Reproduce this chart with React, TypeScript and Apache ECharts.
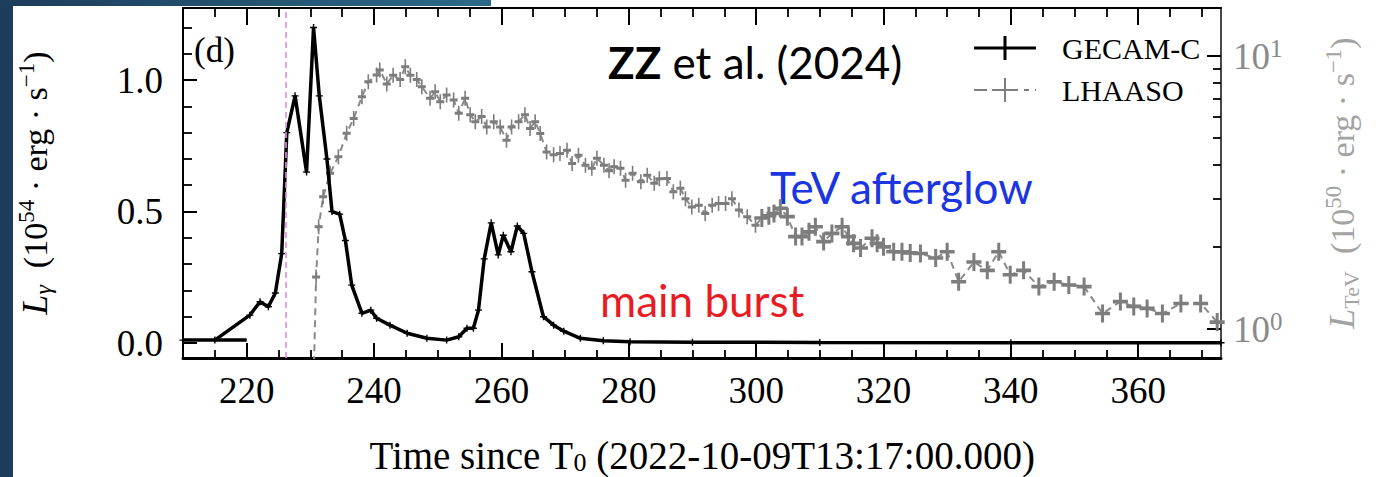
import React, { useEffect, useRef } from "react";
import * as echarts from "echarts";

// ---------------- data ----------------
const gecamTime = [
  210.0, 215.0, 220.5, 222.1, 223.4, 224.5, 225.5, 226.3, 227.6, 229.4, 230.5, 231.4, 232.6, 233.4,
  234.6, 235.5, 236.5, 238.1, 239.5, 240.4, 242.5, 245.2, 248.3, 251.4, 253.3, 254.6, 255.6, 256.4,
  257.3, 258.4, 259.5, 260.3, 261.5, 262.5, 263.5, 264.8, 266.6, 268.2, 269.8, 272.4, 276.0, 280.2,
  290.0, 310.0, 340.0, 373.0,
];
const gecamLum = [
  0.011, 0.011, 0.106, 0.157, 0.138, 0.19, 0.34, 0.8, 0.94, 0.65, 1.2, 0.94, 0.7, 0.5,
  0.49, 0.39, 0.22, 0.113, 0.125, 0.094, 0.068, 0.037, 0.018, 0.011, 0.024, 0.056, 0.056, 0.125,
  0.32, 0.457, 0.335, 0.41, 0.347, 0.445, 0.417, 0.271, 0.1, 0.068, 0.045, 0.018, 0.009, 0.005,
  0.003, 0.002, 0.001, 0.001,
];
// first wide bin horizontal error bar
const gecamBinTime = [215.0, 220.0];
const gecamBinLum = [0.011, 0.011];

const lhaasoTime = [
  230.4, 230.9, 231.3, 232.0, 233.1, 234.4, 235.7, 236.8, 238.1, 239.1, 240.4, 240.9, 242.0, 243.0,
  244.1, 244.9, 245.7, 246.7, 247.5, 248.8, 249.6, 250.4, 251.4, 252.5, 253.3, 254.3, 255.1, 255.9,
  256.9, 257.7, 258.8, 259.8, 260.8, 261.6, 262.7, 263.7, 264.5, 265.3, 266.1, 267.1, 268.2, 269.2,
  270.3, 271.1, 272.1, 273.2, 274.2, 275.0, 276.1, 276.9, 277.7, 278.7, 279.5, 280.6, 281.9, 282.9,
  284.0, 284.8, 286.0, 287.0, 288.1, 288.9, 289.9, 291.0, 292.0, 293.1, 294.1, 295.2, 296.2, 297.3,
  298.6, 299.9, 300.9, 302.0, 302.8, 303.8, 304.9, 306.2, 307.2, 308.3, 309.3, 310.6, 311.9, 313.5,
  314.5, 315.3, 316.4, 318.2, 319.0, 320.0, 321.6, 322.9, 324.2, 325.8, 328.2, 330.0, 331.8, 334.2,
  336.3, 338.1, 339.9, 342.0, 344.4, 346.8, 349.1, 351.5, 354.4, 357.2, 359.3, 361.4, 363.8, 366.7,
  369.8, 372.4,
];
const lhaasoLum = [
  0.5, 1.55, 2.37, 3.05, 3.72, 4.28, 5.21, 5.91, 7.1, 8.05, 8.52, 8.89, 7.9, 8.5,
  8.2, 9.14, 8.5, 8.2, 7.72, 7.0, 7.4, 6.8, 7.2, 6.9, 6.17, 7.0, 6.1, 5.75,
  6.0, 5.5, 5.75, 5.5, 4.92, 5.5, 5.75, 6.1, 5.43, 5.75, 5.2, 4.45, 4.35, 4.4,
  4.52, 4.04, 4.33, 3.98, 3.88, 4.22, 3.98, 3.8, 3.93, 3.88, 3.51, 3.72, 3.46, 3.66,
  3.42, 3.55, 3.56, 3.18, 3.28, 3.0, 2.8, 2.84, 2.65, 2.84, 2.88, 2.88, 3.0, 2.73,
  2.58, 2.4, 2.55, 2.6, 2.65, 2.77, 2.58, 2.18, 2.18, 2.27, 2.37, 2.09, 2.24, 2.37,
  2.18, 2.06, 1.98, 2.15, 2.06, 2.0, 1.92, 1.92, 1.9, 1.89, 1.82, 1.92, 1.49, 1.76,
  1.64, 1.92, 1.58, 1.64, 1.43, 1.49, 1.45, 1.43, 1.14, 1.26, 1.21, 1.19, 1.14, 1.24,
  1.24, 1.06,
];

const t0Marker = 226.1;

const xMajorTicks = [220, 240, 260, 280, 300, 320, 340, 360];
const xMinorTicks = [
  215, 225, 230, 235, 245, 250, 255, 265, 270, 275, 285, 290, 295, 305, 310, 315, 325, 330, 335,
  345, 350, 355, 365, 370,
];
const yMajorTicks = [0, 0.5, 1.0];
const yMinorTicks = [0.1, 0.2, 0.3, 0.4, 0.6, 0.7, 0.8, 0.9, 1.1, 1.2];
const tevMajorTicks = [1, 10];
const tevMinorTicks = [2, 3, 4, 5, 6, 7, 8, 9];

// ---------------- styles ----------------
const SERIF = "'Liberation Serif', 'DejaVu Serif', serif";
const SANS = "Lato, 'Open Sans', 'Noto Sans', sans-serif";
const PLUS = "path://M0,8H20V12H0Z M8,0H12V20H8Z";
const LEGEND_SOLID = "path://M0,10.5H62V13.5H0Z M29.5,0H32.5V24H29.5Z";
const LEGEND_DASHED =
  "path://M0,11H13V13H0Z M18,11H44V13H18Z M30,0H32V24H30Z M50,11H55V13H50Z M61,11H62V13H61Z";

const X_MIN = 210;
const X_MAX = 373;
const Y_MIN = -0.057;
const Y_MAX = 1.274;
const TEV_MIN = 0.783;
const TEV_MAX = 15;

function hiddenAxisBits() {
  return {
    splitLine: { show: false },
    minorTick: { show: false },
    minorSplitLine: { show: false },
  };
}

export default function App() {
  const ref = useRef<HTMLDivElement>(null);

  useEffect(() => {
    if (!ref.current) return;
    const chart = echarts.init(ref.current, null, { renderer: "svg" });

    const gecamData = gecamTime.map((t, i) => [t, gecamLum[i]]);
    const gecamBinData = gecamBinTime.map((t, i) => [t, gecamBinLum[i]]);
    const lhaasoData = lhaasoTime.map((t, i) => [t, lhaasoLum[i]]);

    const xBase = { type: "value", min: X_MIN, max: X_MAX, ...hiddenAxisBits() };
    const yBase = { type: "value", min: Y_MIN, max: Y_MAX, ...hiddenAxisBits() };
    const tevBase = { type: "log", logBase: 10, min: TEV_MIN, max: TEV_MAX, ...hiddenAxisBits() };

    const option: any = {
      animation: false,
      backgroundColor: "#ffffff",
      grid: {
        left: 183,
        right: 157,
        top: 8,
        bottom: 119,
        containLabel: false,
        outerBoundsMode: "none",
      },
      legend: {
        data: [
          { name: "GECAM-C", icon: LEGEND_SOLID },
          { name: "LHAASO", icon: LEGEND_DASHED },
        ],
        orient: "vertical",
        left: 969,
        top: 28,
        itemWidth: 62,
        itemHeight: 24,
        itemGap: 12,
        textStyle: {
          fontFamily: SERIF,
          fontSize: 30,
          color: "#000",
          padding: [0, 0, 0, 21],
        },
      },
      xAxis: [
        {
          ...xBase,
          position: "bottom",
          axisLine: { show: true, onZero: false, lineStyle: { color: "#000", width: 3 } },
          axisTick: {
            show: true,
            inside: true,
            length: 15,
            customValues: xMajorTicks,
            lineStyle: { color: "#000", width: 2 },
          },
          axisLabel: {
            show: true,
            customValues: xMajorTicks,
            formatter: (v: number) => String(Math.round(v)),
            fontFamily: SERIF,
            fontSize: 37,
            color: "#000",
            margin: 14,
          },
          name: "Time since T{s|0} (2022-10-09T13:17:00.000)",
          nameLocation: "middle",
          nameGap: 78,
          nameTextStyle: {
            fontFamily: SERIF,
            fontSize: 39,
            color: "#000",
            rich: {
              s: { fontFamily: SERIF, fontSize: 26, verticalAlign: "bottom", color: "#000" },
            },
          },
        },
        {
          ...xBase,
          position: "bottom",
          axisLine: { show: false, onZero: false },
          axisTick: {
            show: true,
            inside: true,
            length: 8,
            customValues: xMinorTicks,
            lineStyle: { color: "#000", width: 1.8 },
          },
          axisLabel: { show: false },
        },
        {
          ...xBase,
          position: "top",
          axisLine: { show: true, onZero: false, lineStyle: { color: "#000", width: 2 } },
          axisTick: {
            show: true,
            inside: true,
            length: 17,
            customValues: xMajorTicks,
            lineStyle: { color: "#000", width: 2 },
          },
          axisLabel: { show: false },
        },
        {
          ...xBase,
          position: "top",
          axisLine: { show: false, onZero: false },
          axisTick: {
            show: true,
            inside: true,
            length: 9,
            customValues: xMinorTicks,
            lineStyle: { color: "#000", width: 1.8 },
          },
          axisLabel: { show: false },
        },
      ],
      yAxis: [
        {
          ...yBase,
          position: "left",
          axisLine: { show: true, onZero: false, lineStyle: { color: "#000", width: 2 } },
          axisTick: {
            show: true,
            inside: true,
            length: 14,
            customValues: yMajorTicks,
            lineStyle: { color: "#000", width: 2 },
          },
          axisLabel: {
            show: true,
            customValues: yMajorTicks,
            formatter: (v: number) => v.toFixed(1),
            fontFamily: SERIF,
            fontSize: 37,
            color: "#000",
            margin: 20,
          },
          name: "{i|L}{g|γ}{n|  (10}{p|54}{n| · erg · s}{p|−1}{n|)}",
          nameLocation: "middle",
          nameRotate: 90,
          nameGap: 128,
          nameTextStyle: {
            fontFamily: SERIF,
            fontSize: 34,
            color: "#000",
            rich: {
              i: { fontFamily: SERIF, fontSize: 36, fontStyle: "italic", color: "#000", lineHeight: 40 },
              g: { fontFamily: SERIF, fontSize: 24, fontStyle: "italic", color: "#000", verticalAlign: "bottom", lineHeight: 26 },
              n: { fontFamily: SERIF, fontSize: 34, color: "#000", lineHeight: 40 },
              p: { fontFamily: SERIF, fontSize: 23, color: "#000", verticalAlign: "top", lineHeight: 24 },
            },
          },
        },
        {
          ...yBase,
          position: "left",
          axisLine: { show: false, onZero: false },
          axisTick: {
            show: true,
            inside: true,
            length: 9,
            customValues: yMinorTicks,
            lineStyle: { color: "#000", width: 1.8 },
          },
          axisLabel: { show: false },
        },
        {
          ...tevBase,
          position: "right",
          axisLine: { show: true, onZero: false, lineStyle: { color: "#4a4a4a", width: 2 } },
          axisTick: {
            show: true,
            inside: true,
            length: 14,
            customValues: tevMajorTicks,
            lineStyle: { color: "#000", width: 2 },
          },
          axisLabel: {
            show: true,
            customValues: tevMajorTicks,
            formatter: (v: number) => `{b|10}{s|${Math.round(Math.log10(v))}}`,
            margin: 12,
            rich: {
              b: { fontFamily: SERIF, fontSize: 37, color: "#8a8a8a", lineHeight: 40 },
              s: { fontFamily: SERIF, fontSize: 25, color: "#8a8a8a", verticalAlign: "top", lineHeight: 24 },
            },
          },
          name: "{i|L}{g|TeV}{n|  (10}{p|50}{n| · erg · s}{p|−1}{n|)}",
          nameLocation: "middle",
          nameRotate: 90,
          nameGap: 101,
          nameTextStyle: {
            fontFamily: SERIF,
            fontSize: 34,
            color: "#a3a3a3",
            rich: {
              i: { fontFamily: SERIF, fontSize: 36, fontStyle: "italic", color: "#a3a3a3", lineHeight: 40 },
              g: { fontFamily: SERIF, fontSize: 22, color: "#a3a3a3", verticalAlign: "bottom", lineHeight: 24 },
              n: { fontFamily: SERIF, fontSize: 34, color: "#a3a3a3", lineHeight: 40 },
              p: { fontFamily: SERIF, fontSize: 23, color: "#a3a3a3", verticalAlign: "top", lineHeight: 24 },
            },
          },
        },
        {
          ...tevBase,
          position: "right",
          axisLine: { show: false, onZero: false },
          axisTick: {
            show: true,
            inside: true,
            length: 8,
            customValues: tevMinorTicks,
            lineStyle: { color: "#000", width: 1.8 },
          },
          axisLabel: { show: false },
        },
      ],
      series: [
        {
          name: "LHAASO",
          type: "line",
          xAxisIndex: 0,
          yAxisIndex: 2,
          data: lhaasoData,
          symbol: PLUS,
          symbolSize: (v: number[]) => (v[0] < 300 ? [8, 15] : [15, 18]),
          itemStyle: { color: "#7d7d7d" },
          lineStyle: { color: "#8a8a8a", width: 2, type: [7, 5] },
          z: 2,
        },
        {
          name: "GECAM-C",
          type: "line",
          xAxisIndex: 0,
          yAxisIndex: 0,
          data: gecamData,
          symbol: PLUS,
          symbolSize: 7,
          itemStyle: { color: "#000" },
          lineStyle: { color: "#000", width: 3.5 },
          z: 4,
          markLine: {
            silent: true,
            symbol: "none",
            label: { show: false },
            lineStyle: { color: "#e28be6", width: 1.6, type: [6, 4] },
            data: [{ xAxis: t0Marker }],
          },
        },
        {
          name: "GECAM-C bin",
          type: "line",
          xAxisIndex: 0,
          yAxisIndex: 0,
          data: gecamBinData,
          showSymbol: false,
          lineStyle: { color: "#000", width: 3.5 },
          z: 4,
        },
      ],
      graphic: [
        {
          type: "rect",
          shape: { x: 0, y: 0, width: 13, height: 477 },
          style: { fill: "#1d3c5a" },
          silent: true,
        },
        {
          type: "rect",
          shape: { x: 0, y: 0, width: 491, height: 6 },
          style: {
            fill: new echarts.graphic.LinearGradient(0, 0, 1, 0, [
              { offset: 0, color: "#1d3c5a" },
              { offset: 1, color: "#2b6a88" },
            ]),
          },
          silent: true,
        },
        {
          type: "text",
          x: 194,
          y: 50,
          style: {
            text: "(d)",
            fontFamily: SERIF,
            fontSize: 35,
            fill: "#000",
            textAlign: "left",
            textVerticalAlign: "middle",
          },
          silent: true,
        },
        {
          type: "text",
          x: 608,
          y: 62,
          style: {
            text: "{b|ZZ} et al. (2024)",
            fontFamily: SANS,
            fontSize: 44,
            fill: "#000",
            textAlign: "left",
            textVerticalAlign: "middle",
            rich: {
              b: { fontFamily: SANS, fontSize: 44, fontWeight: "bold", fill: "#000" },
            },
          },
          silent: true,
        },
        {
          type: "text",
          x: 770,
          y: 187,
          style: {
            text: "TeV afterglow",
            fontFamily: SANS,
            fontSize: 44,
            fill: "#1b36e0",
            textAlign: "left",
            textVerticalAlign: "middle",
          },
          silent: true,
        },
        {
          type: "text",
          x: 600,
          y: 300,
          style: {
            text: "main burst",
            fontFamily: SANS,
            fontSize: 44,
            fill: "#e91c24",
            textAlign: "left",
            textVerticalAlign: "middle",
          },
          silent: true,
        },
      ],
    };

    chart.setOption(option);
    return () => {
      chart.dispose();
    };
  }, []);

  return (
    <div
      ref={ref}
      style={{ position: "fixed", left: 0, top: 0, width: 1378, height: 477, background: "#fff" }}
    />
  );
}
